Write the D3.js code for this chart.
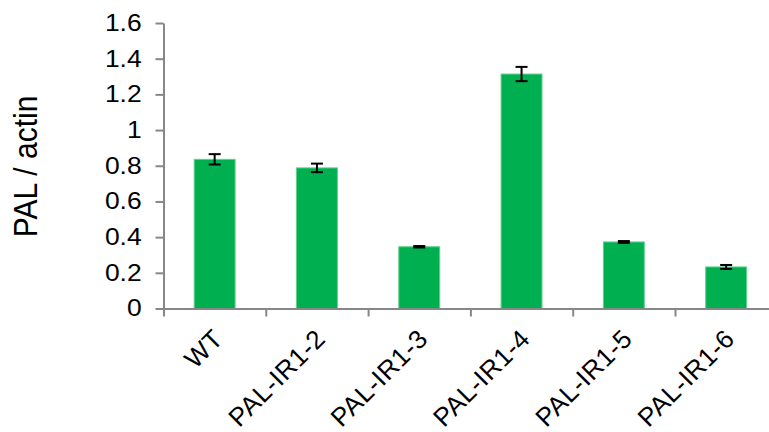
<!DOCTYPE html>
<html>
<head>
<meta charset="utf-8">
<script src="https://cdn.jsdelivr.net/npm/d3@7"></script>
<style>
  html, body { margin: 0; padding: 0; background: #fff; }
  svg { display: block; font-family: "Liberation Sans", Arial, sans-serif; }
</style>
</head>
<body>
<svg id="chart" width="769" height="432"></svg>
<script>
// Relative PAL expression (normalised to actin)
const categories = ["WT", "PAL-IR1-2", "PAL-IR1-3", "PAL-IR1-4", "PAL-IR1-5", "PAL-IR1-6"];
const values = [0.836, 0.788, 0.346, 1.314, 0.373, 0.233];
const errors = [0.029, 0.024, 0.004, 0.040, 0.005, 0.011];
const yTicks = [0, 0.2, 0.4, 0.6, 0.8, 1, 1.2, 1.4, 1.6];
const yLabel = "PAL / actin";

const svg = d3.select("#chart");
const m = { left: 163.5, right: 777.3, top: 23, bottom: 308.5 };
const axisColor = "#878787";
const stretch = 1.15; // tick text is set slightly wide

const x = d3.scaleBand().domain(categories).range([m.left, m.right])
  .paddingInner(0.6).paddingOuter(0.3);
const xBound = d3.scaleLinear().domain([0, categories.length]).range([m.left, m.right]);
const y = d3.scaleLinear().domain([0, 1.6]).range([m.bottom, m.top]);

// Bars
svg.append("g").selectAll("rect").data(categories).join("rect")
  .attr("x", d => x(d))
  .attr("y", (d, i) => y(values[i]))
  .attr("width", x.bandwidth())
  .attr("height", (d, i) => y(0) - y(values[i]))
  .attr("fill", "#00B050")
  .attr("stroke", "#62cf8c")
  .attr("stroke-width", 1);

// Error bars
const eb = svg.append("g").attr("stroke", "#000").attr("stroke-width", 2);
categories.forEach((c, i) => {
  const cx = x(c) + x.bandwidth() / 2;
  const y1 = y(values[i] + errors[i]), y0 = y(values[i] - errors[i]);
  eb.append("line").attr("x1", cx).attr("x2", cx).attr("y1", y1).attr("y2", y0);
  eb.append("line").attr("x1", cx - 6).attr("x2", cx + 6).attr("y1", y1).attr("y2", y1);
  eb.append("line").attr("x1", cx - 6).attr("x2", cx + 6).attr("y1", y0).attr("y2", y0);
});

// Y axis
const yAxis = svg.append("g").attr("transform", `translate(${m.left},0)`)
  .call(d3.axisLeft(y).tickValues(yTicks).tickSize(8).tickSizeOuter(0).tickPadding(11)
    .tickFormat(d => String(+d.toFixed(1))));
yAxis.select(".domain").attr("stroke", axisColor).attr("stroke-width", 2);
yAxis.selectAll(".tick line").attr("stroke", axisColor).attr("stroke-width", 2);
yAxis.selectAll(".tick text").attr("fill", "#000").attr("font-size", 23)
  .attr("font-family", "Liberation Sans, Arial, sans-serif")
  .attr("transform", `scale(${stretch},1)`);

// X axis (ticks between categories)
const xAxis = svg.append("g").attr("transform", `translate(0,${m.bottom})`)
  .call(d3.axisBottom(xBound).tickValues(d3.range(categories.length + 1)).tickSize(8)
    .tickSizeOuter(0).tickFormat(""));
xAxis.select(".domain").attr("stroke", axisColor).attr("stroke-width", 2);
xAxis.selectAll(".tick line").attr("stroke", axisColor).attr("stroke-width", 2);

// Category labels, rotated
svg.append("g").selectAll("text").data(categories).join("text")
  .attr("transform", d =>
    `translate(${x(d) + x.bandwidth() / 2 + 10},${m.bottom + 32}) rotate(-45)`)
  .attr("text-anchor", "end")
  .attr("font-size", 26)
  .attr("letter-spacing", 0.5)
  .attr("fill", "#000")
  .text(d => d);

// Y axis title
svg.append("text")
  .attr("transform", `translate(37,166.5) scale(1.12,1) rotate(-90)`)
  .attr("text-anchor", "middle")
  .attr("font-size", 30)
  .attr("fill", "#000")
  .text(yLabel);
</script>
</body>
</html>
